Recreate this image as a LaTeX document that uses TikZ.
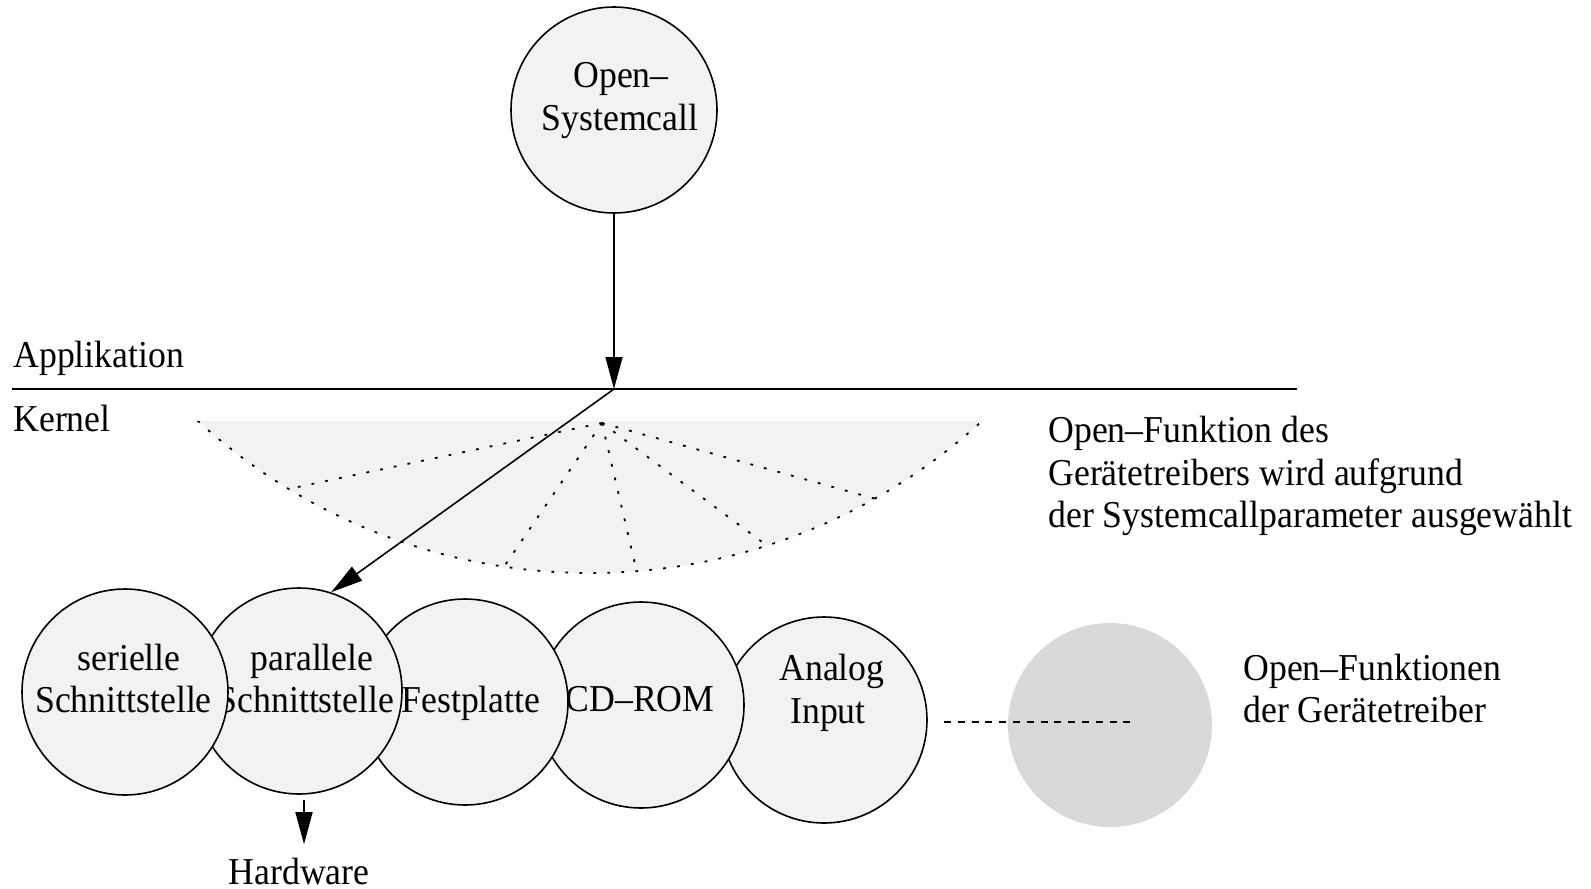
\documentclass[tikz,border=0pt]{standalone}
\usepackage{fontspec}
\setmainfont{Liberation Serif}[FakeStretch=0.94]
\usetikzlibrary{arrows.meta,calc}
\definecolor{lightfill}{gray}{0.95}
\definecolor{darkfill}{gray}{0.85}

\begin{document}
\begin{tikzpicture}[x=0.5pt,y=-0.5pt,
  txt/.style={font=\fontsize{19}{21.3}\selectfont, inner sep=0pt},
  drv/.style={circle, draw=black, line width=0.8pt, fill=lightfill,
              minimum size=103pt, inner sep=0pt},
  arr/.style={-{Triangle[length=16pt,width=8.5pt]}, line width=0.8pt},
  fandot/.style={line width=0.9pt, dash pattern=on 1.4pt off 5.6pt},
  gapline/.style={line width=0.8pt, dash pattern=on 3.5pt off 3.4pt},
]
\useasboundingbox (0,0) rectangle (1591,889);

% ---- Open systemcall -------------------------------------------------
\node[drv] (sys) at (614,110) {};
\node[txt, anchor=base] (sysA) at (621,87) {Open–};
\node[txt, anchor=base] (sysB) at (620,130) {Systemcall};

% ---- boundary between application and kernel ------------------------
\coordinate (lineL) at (12,389);
\coordinate (lineR) at (1297,389);
\coordinate (junc)  at (614,389);
\draw[line width=0.8pt] (lineL) -- (lineR);
\node[txt, anchor=base west] (app) at (13,367) {Applikation};
\node[txt, anchor=base west] (ker) at (13,431) {Kernel};

% ---- selection fan ---------------------------------------------------
\coordinate (fanC) at (590,-8.5);
\coordinate (apex) at (602,423);
\begin{scope}
  \clip (150,421) rectangle (1050,640);
  \fill[lightfill] (fanC) circle[radius=290.75pt];
  \draw[fandot] (fanC) circle[radius=290.75pt];
\end{scope}
\foreach \a in {121.2,98.5,85.4,72.3,60.7}
  \draw[fandot] (apex) -- ($(fanC)+(\a:581.5)$);

\node[txt, anchor=base west] (selA) at (1048,442) {Open–Funktion des};
\node[txt, anchor=base west] (selB) at (1048,485) {Gerätetreibers wird aufgrund};
\node[txt, anchor=base west] (selC) at (1048,527) {der Systemcallparameter ausgewählt};

% ---- driver open functions (drawn right to left) ---------------------
\node[circle, fill=darkfill, minimum size=102pt, inner sep=0pt] (more) at (1110,725) {};

\node[drv] (ana) at (824,720) {};
\node[txt, anchor=base] (anaA) at (832,680) {Analog};
\node[txt, anchor=base] (anaB) at (828,723) {Input};

\node[drv] (cd) at (641,705) {};
\node[txt, anchor=base] (cdA) at (640,711) {CD–ROM};

\node[drv] (fest) at (465,702) {};
\node[txt, anchor=base] (festA) at (471,712) {Festplatte};

\node[drv] (par) at (299,691) {};
\node[txt, anchor=base] (parA) at (312,670) {parallele};
\node[txt, anchor=base] (parB) at (306,712) {Schnittstelle};

\node[drv] (ser) at (125,692) {};
\node[txt, anchor=base] (serA) at (129,670) {serielle};
\node[txt, anchor=base] (serB) at (123.5,712) {Schnittstelle};

\coordinate (gapA) at (944,722);
\coordinate (gapB) at (1136,722);
\draw[gapline] (gapA) -- (gapB);

\node[txt, anchor=base west] (drvA) at (1243,680) {Open–Funktionen};
\node[txt, anchor=base west] (drvB) at (1243,722) {der Gerätetreiber};

\node[txt, anchor=base] (hw) at (299,884) {Hardware};

% ---- arrows ------------------------------------------------------------
\draw[arr] (sys) -- (junc);
\draw[arr] (junc) -- (par.72);
\draw[arr] ([xshift=2.5pt,yshift=-2.5pt]par.south) -- ([xshift=2.5pt,yshift=6.5pt]hw.north);
\end{tikzpicture}
\end{document}
